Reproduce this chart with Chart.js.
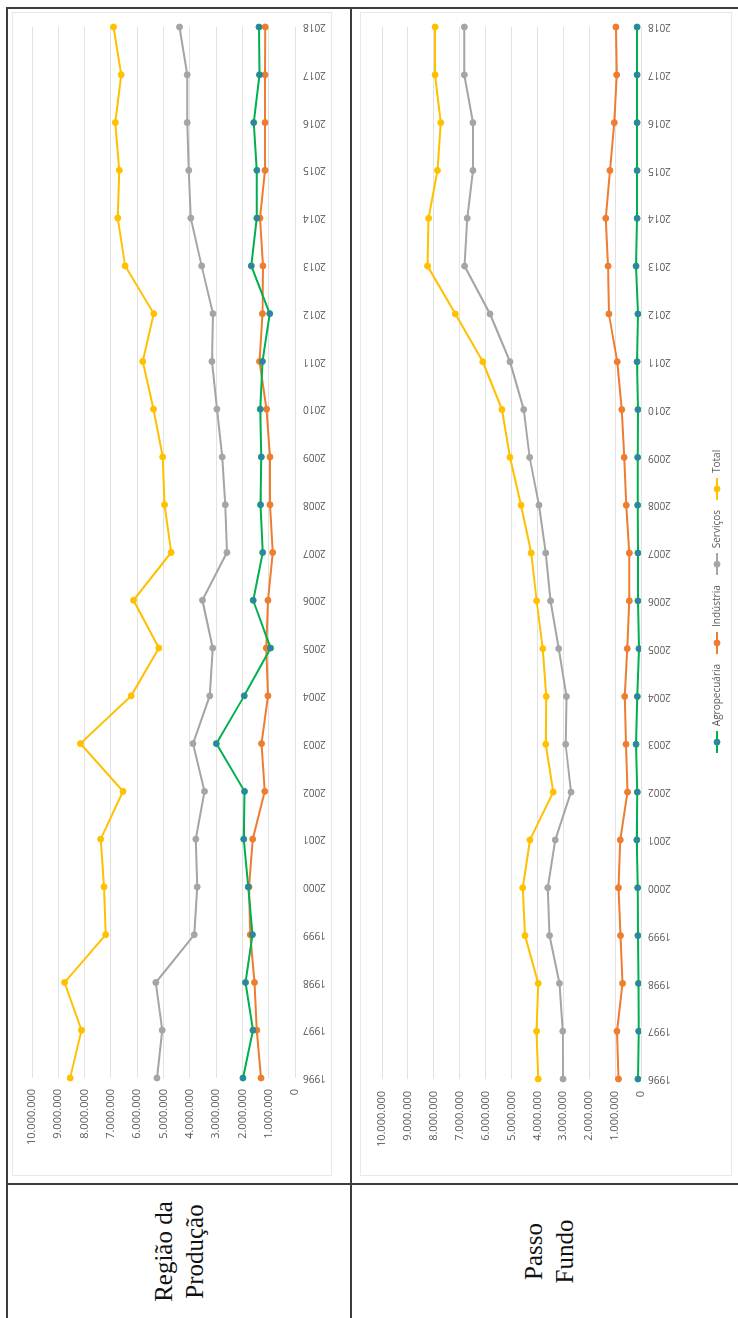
<!DOCTYPE html>
<html lang="pt-BR">
<head>
<meta charset="utf-8">
<title>Valor adicionado por setor – Região da Produção e Passo Fundo</title>
<script src="https://cdn.jsdelivr.net/npm/chart.js@4"></script>
<style>
  html, body { margin: 0; padding: 0; background: #fff; }
  body { width: 738px; height: 1318px; overflow: hidden; position: relative; }
  /* the whole table is laid out landscape and turned a quarter turn */
  #sheet {
    position: absolute; left: 0; top: 0;
    width: 1318px; height: 738px;
    transform-origin: 0 0;
    transform: translateY(1318px) rotate(-90deg);
  }
  .rule { position: absolute; background: #3c3c3c; }
  .label {
    position: absolute; display: flex; align-items: center; justify-content: center;
    text-align: center; font-family: "Liberation Serif", "DejaVu Serif", serif;
    font-size: 25px; line-height: 31px; color: #111;
  }
  .frame { position: absolute; border: 1px solid #e9e9e9; box-sizing: border-box; }
  canvas { position: absolute; }
</style>
</head>
<body>
<div id="sheet">
  <!-- table rules -->
  <div class="rule" style="left:0;top:6px;width:1311px;height:2px"></div>
  <div class="rule" style="left:0;top:350px;width:1311px;height:2px"></div>
  <div class="rule" style="left:1309px;top:6px;width:2px;height:740px"></div>
  <div class="rule" style="left:133px;top:6px;width:2px;height:740px"></div>

  <!-- row captions -->
  <div class="label" style="left:0;top:8px;width:133px;height:342px">Região da<br>Produção</div>
  <div class="label" style="left:0;top:352px;width:133px;height:394px">Passo<br>Fundo</div>

  <!-- chart frames -->
  <div class="frame" style="left:142px;top:12px;width:1164px;height:320px"></div>
  <div class="frame" style="left:142px;top:360px;width:1164px;height:372px"></div>

  <canvas id="chartRegiao" width="1164" height="320" style="left:142px;top:12px"></canvas>
  <canvas id="chartPassoFundo" width="1164" height="372" style="left:142px;top:360px"></canvas>
</div>

<script>
// Categories
const years = ['1996','1997','1998','1999','2000','2001','2002','2003','2004','2005','2006','2007',
               '2008','2009','2010','2011','2012','2013','2014','2015','2016','2017','2018'];

// Series names
const seriesNames = ['Agropecuária', 'Indústria', 'Serviços', 'Total'];

// Região da Produção
const regiaoAgro = [1980000,1600000,1880000,1620000,1780000,1950000,1920000,2990000,1930000,930000,1590000,1230000,
                    1310000,1280000,1320000,1240000,960000,1660000,1450000,1450000,1570000,1350000,1370000];
const regiaoIndustria = [1290000,1450000,1540000,1700000,1750000,1610000,1150000,1270000,1030000,1090000,1030000,850000,
                         950000,950000,1080000,1350000,1240000,1220000,1330000,1140000,1140000,1140000,1130000];
const regiaoServicos = [5250000,5050000,5290000,3830000,3720000,3770000,3440000,3880000,3240000,3130000,3520000,2590000,
                        2650000,2770000,2970000,3160000,3120000,3550000,3960000,4040000,4100000,4100000,4390000];
const regiaoTotal = [8550000,8120000,8760000,7200000,7260000,7390000,6540000,8160000,6230000,5180000,6140000,4710000,
                     4960000,5030000,5380000,5790000,5370000,6460000,6740000,6680000,6830000,6610000,6900000];

// Passo Fundo
const pfAgro = [120000,90000,100000,120000,130000,160000,140000,190000,140000,80000,120000,120000,
                130000,130000,120000,150000,120000,190000,150000,150000,150000,150000,150000];
const pfIndustria = [870000,930000,710000,790000,870000,800000,520000,580000,630000,530000,450000,450000,
                     570000,650000,740000,920000,1240000,1270000,1360000,1200000,1030000,940000,970000];
const pfServicos = [3010000,3020000,3150000,3530000,3600000,3310000,2700000,2910000,2880000,3180000,3490000,3680000,
                    3940000,4300000,4530000,5060000,5830000,6810000,6710000,6490000,6490000,6820000,6820000];
const pfTotal = [3970000,4030000,3970000,4480000,4570000,4290000,3390000,3680000,3660000,3790000,4030000,4240000,
                 4630000,5060000,5370000,6110000,7170000,8240000,8200000,7860000,7730000,7950000,7950000];

// Value axis
const axisMax = 10000000;
const axisStep = 1000000;

// Styles per series
const lineColors = ['#00B050', '#ED7D31', '#A5A5A5', '#FFC000'];
const pointFills = ['#4472C4', '#ED7D31', '#A5A5A5', '#FFC000'];

const TICK_COLOR = '#595959';
const GRID_COLOR = '#e2e2e2';
const SANS = '"Open Sans", "Noto Sans", sans-serif';

function formatThousands(v) {
  return String(v).replace(/\B(?=(\d{3})+(?!\d))/g, '.');
}

function makeDatasets(values) {
  return values.map((data, i) => ({
    label: seriesNames[i],
    data: data,
    borderColor: lineColors[i],
    backgroundColor: pointFills[i],
    borderWidth: 2,
    pointRadius: 3,
    pointBorderWidth: 1,
    pointBackgroundColor: pointFills[i],
    pointBorderColor: lineColors[i],
    tension: 0,
    fill: false
  }));
}

// legend swatch: short line with a marker in the middle
function legendSwatch(i) {
  const c = document.createElement('canvas');
  c.width = 22; c.height = 10;
  const ctx = c.getContext('2d');
  ctx.strokeStyle = lineColors[i];
  ctx.lineWidth = 2;
  ctx.beginPath(); ctx.moveTo(0, 5); ctx.lineTo(22, 5); ctx.stroke();
  ctx.beginPath(); ctx.arc(11, 5, 3, 0, Math.PI * 2);
  ctx.fillStyle = pointFills[i]; ctx.fill();
  ctx.lineWidth = 1; ctx.strokeStyle = lineColors[i]; ctx.stroke();
  return c;
}
const swatches = seriesNames.map((_, i) => legendSwatch(i));

function makeChart(id, values, opts) {
  return new Chart(document.getElementById(id), {
    type: 'line',
    data: { labels: years, datasets: makeDatasets(values) },
    options: {
      responsive: false,
      animation: false,
      events: [],
      layout: { padding: { top: opts.padTop, right: 15, bottom: 0, left: 0 } },
      scales: {
        x: {
          offset: false,
          grid: { display: false, drawTicks: false },
          border: { display: false },
          ticks: {
            autoSkip: false, minRotation: 90, maxRotation: 90, padding: opts.xPad,
            color: TICK_COLOR, font: { family: SANS, size: 10 }
          },
          afterFit: s => {
            s.height = opts.xHeight;
            // the end labels fit inside the layout padding already
            s.paddingLeft = 0;
            s.paddingRight = 0;
          }
        },
        y: {
          min: 0, max: axisMax,
          grid: { color: GRID_COLOR, lineWidth: 1, drawTicks: false },
          border: { display: false },
          ticks: {
            stepSize: axisStep, padding: opts.yPad,
            color: TICK_COLOR, font: { family: SANS, size: 11 },
            callback: v => formatThousands(v)
          },
          afterFit: s => { s.width = opts.yWidth; }
        }
      },
      plugins: {
        tooltip: { enabled: false },
        legend: {
          display: opts.legend,
          position: 'bottom',
          labels: {
            usePointStyle: true,
            pointStyleWidth: 22,
            padding: 10,
            color: TICK_COLOR,
            font: { family: SANS, size: 10 },
            generateLabels: chart => {
              const items = Chart.defaults.plugins.legend.labels.generateLabels(chart);
              items.forEach(it => { it.pointStyle = swatches[it.datasetIndex]; });
              return items;
            }
          }
        }
      }
    }
  });
}

makeChart('chartRegiao', [regiaoAgro, regiaoIndustria, regiaoServicos, regiaoTotal],
  { padTop: 20, xHeight: 37, xPad: 8, yWidth: 98, yPad: 11, legend: false });

makeChart('chartPassoFundo', [pfAgro, pfIndustria, pfServicos, pfTotal],
  { padTop: 22, xHeight: 61, xPad: 7, yWidth: 97, yPad: 12, legend: true });
</script>
</body>
</html>
